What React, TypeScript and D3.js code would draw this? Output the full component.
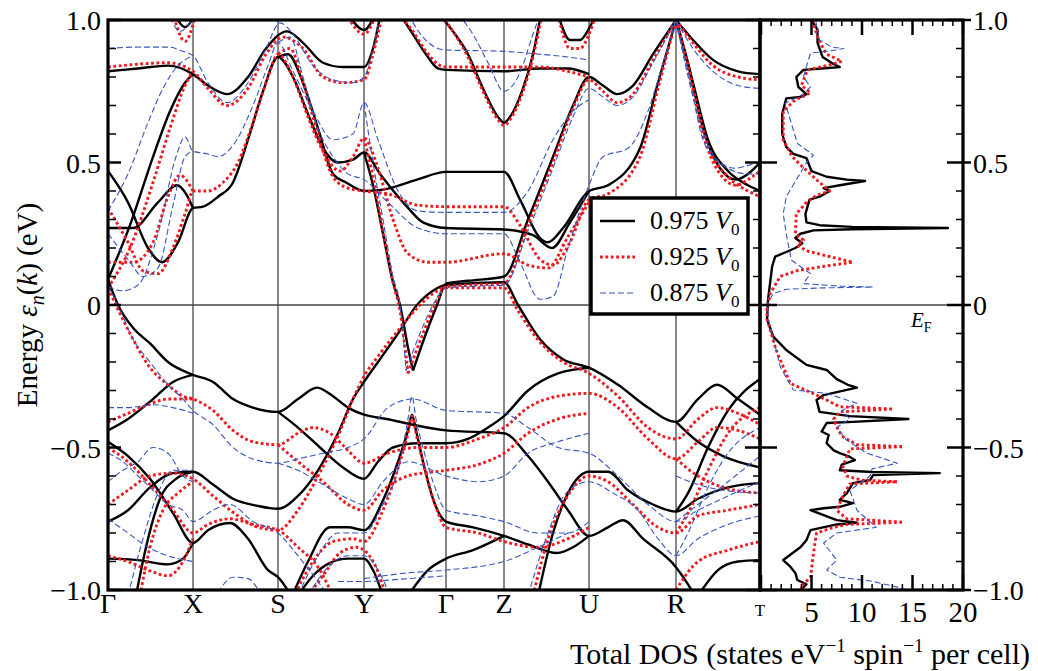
import React from "react";
import * as d3 from "d3";

type P = [number, number];

const kLabels = ["Γ", "X", "S", "Y", "Γ", "Z", "U", "R", "T"];
const kPositions = [0, 85, 170, 256, 338, 396, 481, 568, 652];
const energyTicks = [-1, -0.5, 0, 0.5, 1];
const energyTickLabels = ["−1.0", "−0.5", "0", "0.5", "1.0"];
const dosTicks = [5, 10, 15, 20];
const seriesNames = ["0.975", "0.925", "0.875"];

const bands0975: P[][] = [
  [[0,.82],[30,.83],[60,.84],[85,.81],[100,.77],[119,.74],[140,.80],[158,.90],[179,.96],[195,.92],[215,.85],[235,.835],[256,.835],[265,.90],[273,1.03]],
  [[0,.09],[22,.28],[45,.52],[62,.68],[77,.78],[85,.81]],
  [[0,.47],[20,.36],[40,.20],[54,.15],[70,.22],[85,.34],[95,.345],[110,.38],[125,.43],[140,.58],[155,.75],[170,.87],[185,.80],[200,.67],[215,.55],[230,.50],[245,.51],[256,.535],[272,.46],[299,.345],[315,.29],[338,.27],[396,.265],[425,.245],[444,.20],[462,.29],[481,.40]],
  [[0,.27],[25,.27],[50,.36],[69,.42],[78,.39],[85,.34]],
  [[170,.87],[180,.88],[195,.78],[210,.62],[225,.46],[238,.43],[256,.40],[275,.405],[309,.44],[338,.467],[396,.467],[412,.37],[432,.235],[440,.22],[455,.27],[481,.40],[500,.42],[532,.55],[550,.78],[568,1.0]],
  [[305,-.23],[318,-.10],[329,0],[338,.075],[360,.085],[396,.10],[420,.30],[445,.52],[465,.70],[481,.80],[495,.77],[509,.74],[525,.77],[545,.88],[568,1.0]],
  [[292,1.02],[305,.95],[318,.88],[330,.83],[338,.825],[396,.82],[432,.83],[460,.83],[481,.81]],
  [[336,1.0],[345,.96],[360,.88],[375,.76],[390,.66],[396,.64],[402,.66],[415,.76],[425,.88],[433,1.02]],
  [[256,.535],[265,.42],[275,.25],[285,.08],[292,0],[300,-.15],[305,-.23]],
  [[0,.09],[10,0],[25,-.08],[42,-.135],[60,-.20],[85,-.245],[105,-.27],[125,-.33],[145,-.36],[170,-.375],[190,-.33],[209,-.29],[225,-.32],[240,-.36],[256,-.385],[279,-.40],[305,-.42],[338,-.44],[396,-.45],[420,-.53],[440,-.62],[460,-.72],[481,-.81],[500,-.78],[515,-.755],[535,-.82],[568,-.92],[580,-.98],[590,-1.04]],
  [[0,-.44],[20,-.40],[45,-.33],[65,-.27],[85,-.245]],
  [[0,-.48],[20,-.53],[42,-.61],[65,-.73],[85,-.835],[100,-.79],[122,-.765],[140,-.82],[160,-.93],[170,-.955],[185,-1.03]],
  [[0,-.76],[20,-.72],[42,-.64],[65,-.59],[85,-.585],[105,-.63],[125,-.68],[150,-.705],[170,-.715],[190,-.67],[210,-.58],[230,-.45],[245,-.33],[256,-.27],[270,-.20],[290,-.10],[309,0],[325,.05],[338,.07],[396,.08],[410,0],[432,-.12],[455,-.19],[481,-.22],[510,-.28],[540,-.36],[568,-.41],[590,-.33],[609,-.28],[630,-.33],[652,-.385]],
  [[170,-.375],[190,-.43],[212,-.50],[235,-.57],[256,-.61],[270,-.55],[285,-.50],[310,-.485],[338,-.485],[360,-.47],[380,-.43],[396,-.39],[420,-.30],[450,-.24],[481,-.22]],
  [[568,-.41],[590,-.48],[615,-.53],[652,-.57]],
  [[183,-1.03],[200,-.90],[222,-.78],[240,-.78],[256,-.79],[275,-.685],[290,-.55],[300,-.44],[304,-.385],[308,-.44],[315,-.55],[325,-.68],[338,-.76],[365,-.78],[396,-.81],[420,-.84],[449,-.87],[465,-.85],[481,-.81]],
  [[300,-1.02],[320,-.93],[338,-.89],[365,-.86],[396,-.81]],
  [[0,-.89],[30,-.895],[60,-.91],[75,-.89],[85,-.835]],
  [[28,-1.02],[38,-.85],[52,-.68],[68,-.61],[85,-.585]],
  [[190,-1.02],[205,-.95],[222,-.905],[240,-.89],[256,-.89],[265,-.93],[275,-1.02]],
  [[430,-1.02],[445,-.80],[460,-.66],[481,-.585],[500,-.585],[520,-.65],[545,-.70],[568,-.725],[590,-.68],[620,-.64],[652,-.625]],
  [[568,-.725],[580,-.66],[600,-.50],[620,-.37],[652,-.26]],
  [[590,-1.02],[610,-.93],[630,-.90],[652,-.895]],
  [[568,1.0],[585,.93],[605,.86],[630,.82],[652,.81]],
  [[568,1.0],[580,.85],[595,.62],[612,.48],[628,.44],[640,.46],[652,.50]],
  [[568,1.0],[585,.78],[600,.58],[620,.47],[640,.42],[652,.40]],
  [[68,1.01],[77,.975],[86,1.01]],
  [[242,1.01],[256,.965],[266,1.01]],
  [[450,1.02],[462,.93],[472,.93],[481,.97],[488,1.02]],
];

const bands0925: P[][] = [
  [[0,.835],[30,.845],[60,.85],[85,.82],[100,.76],[119,.70],[140,.76],[158,.88],[175,.94],[195,.90],[215,.80],[235,.78],[256,.79],[265,.88],[275,1.03]],
  [[0,.06],[22,.20],[45,.43],[62,.62],[77,.77],[85,.82]],
  [[0,.34],[20,.22],[35,.12],[50,.11],[65,.20],[78,.33],[85,.40],[100,.40],[115,.43],[130,.50],[145,.64],[160,.80],[170,.88],[185,.80],[200,.66],[215,.54],[232,.47],[245,.52],[256,.585],[270,.48],[285,.30],[300,.18],[320,.15],[338,.15],[396,.18],[420,.14],[440,.13],[460,.24],[481,.36]],
  [[0,.15],[25,.15],[45,.22],[60,.38],[72,.455],[85,.40]],
  [[170,.88],[182,.90],[195,.78],[210,.60],[225,.45],[240,.41],[256,.40],[280,.39],[310,.35],[338,.345],[396,.345],[412,.28],[432,.16],[445,.14],[462,.22],[481,.37],[500,.39],[532,.52],[550,.76],[568,1.0]],
  [[300,-.24],[315,-.10],[327,0],[338,.065],[360,.07],[396,.075],[420,.28],[445,.50],[465,.69],[481,.79],[495,.75],[509,.71],[525,.74],[545,.86],[568,1.0]],
  [[290,1.02],[305,.96],[318,.89],[330,.845],[338,.835],[396,.835],[432,.835],[460,.82],[481,.80]],
  [[337,1.0],[345,.96],[360,.87],[375,.75],[390,.65],[396,.63],[402,.65],[415,.75],[425,.87],[434,1.02]],
  [[256,.585],[265,.45],[275,.26],[285,.08],[292,-.02],[300,-.24]],
  [[0,.06],[8,0],[25,-.12],[42,-.22],[60,-.28],[75,-.32],[85,-.33],[105,-.37],[125,-.44],[145,-.48],[170,-.49],[190,-.45],[205,-.43],[222,-.45],[240,-.51],[256,-.555],[280,-.52],[310,-.50],[338,-.50],[370,-.47],[396,-.43],[420,-.36],[450,-.32],[481,-.31],[510,-.36],[540,-.47],[568,-.54],[590,-.48],[609,-.43],[630,-.44],[652,-.47]],
  [[0,-.41],[20,-.38],[40,-.35],[60,-.33],[85,-.33]],
  [[0,-.50],[20,-.55],[42,-.63],[65,-.72],[85,-.80],[100,-.77],[122,-.75],[145,-.77],[170,-.79],[190,-.85],[210,-.92],[225,-1.02]],
  [[0,-.70],[20,-.65],[42,-.60],[65,-.59],[85,-.61],[105,-.67],[130,-.74],[150,-.78],[170,-.79],[190,-.72],[210,-.60],[230,-.46],[245,-.33],[256,-.25],[270,-.18],[290,-.09],[312,0],[325,.04],[338,.06],[396,.06],[410,-.02],[432,-.13],[455,-.20],[481,-.24],[510,-.32],[540,-.43],[568,-.47],[590,-.40],[609,-.36],[630,-.38],[652,-.42]],
  [[170,-.49],[190,-.55],[215,-.62],[240,-.70],[256,-.72],[275,-.65],[300,-.60],[338,-.58],[370,-.56],[396,-.52],[420,-.45],[450,-.40],[481,-.38]],
  [[185,-1.03],[205,-.90],[225,-.83],[245,-.82],[256,-.83],[275,-.72],[292,-.55],[300,-.45],[304,-.39],[308,-.45],[315,-.55],[327,-.70],[338,-.78],[370,-.80],[396,-.83],[430,-.85],[460,-.82],[481,-.78]],
  [[0,-.88],[20,-.90],[40,-.93],[60,-.95],[75,-.90],[85,-.82]],
  [[32,-1.02],[42,-.85],[55,-.72],[70,-.66],[85,-.62]],
  [[200,-1.02],[215,-.95],[232,-.87],[248,-.85],[256,-.86],[268,-.92],[278,-1.02]],
  [[425,-1.02],[442,-.80],[458,-.68],[481,-.60],[500,-.62],[525,-.70],[550,-.78],[568,-.80],[590,-.74],[620,-.72],[652,-.70]],
  [[568,-.80],[580,-.73],[600,-.58],[620,-.45],[652,-.36]],
  [[568,-.54],[590,-.60],[615,-.64],[652,-.66]],
  [[568,-1.0],[590,-.90],[620,-.86],[652,-.83]],
  [[568,1.0],[585,.92],[605,.84],[630,.80],[652,.79]],
  [[568,1.0],[580,.84],[595,.60],[612,.46],[628,.42],[640,.44],[652,.47]],
  [[568,1.0],[585,.76],[600,.56],[620,.45],[640,.40],[652,.38]],
  [[66,1.01],[77,.925],[87,1.01]],
  [[240,1.01],[256,.95],[267,1.01]],
  [[450,1.02],[462,.90],[472,.90],[481,.95],[488,1.02]],
];

const bands0875: P[][] = [
  [[0,.90],[30,.905],[60,.905],[75,.89],[85,.875],[100,.78],[119,.71],[140,.78],[158,.90],[172,.99],[185,.95],[205,.84],[225,.79],[245,.78],[256,.80],[265,.90],[272,1.03]],
  [[0,.33],[20,.46],[40,.64],[55,.76],[70,.84],[85,.875]],
  [[0,.065],[15,.05],[30,.07],[50,.25],[68,.52],[77,.59],[85,.54],[100,.53],[110,.52],[125,.56],[145,.70],[160,.84],[170,.92],[185,.82],[205,.68],[225,.58],[245,.60],[256,.71],[270,.58],[290,.40],[310,.33],[338,.325],[396,.325],[420,.40],[445,.58],[465,.68],[481,.72]],
  [[0,.25],[20,.16],[35,.10],[50,.13],[65,.35],[77,.52],[85,.54]],
  [[170,.92],[182,.94],[195,.80],[210,.62],[225,.52],[240,.46],[256,.44],[280,.36],[310,.27],[338,.25],[396,.25],[412,.15],[432,.02],[445,.03],[460,.20],[481,.42],[495,.52],[520,.55],[540,.68],[555,.85],[568,1.0]],
  [[298,-.23],[312,-.10],[325,0],[338,.06],[360,.065],[396,.07],[420,.26],[445,.48],[465,.66],[481,.76],[495,.73],[509,.70],[525,.73],[545,.85],[568,1.0]],
  [[300,1.02],[315,.94],[330,.90],[338,.895],[396,.89],[432,.88],[460,.87],[481,.86]],
  [[350,1.02],[365,.95],[380,.85],[396,.75],[410,.80],[425,.95],[432,1.02]],
  [[256,.71],[265,.50],[275,.30],[285,.10],[292,0],[298,-.23]],
  [[0,.065],[10,0],[25,-.12],[42,-.20],[60,-.28],[75,-.33],[85,-.37],[105,-.42],[125,-.50],[145,-.54],[170,-.555],[190,-.54],[215,-.52],[240,-.50],[256,-.47],[280,-.36],[305,-.33],[338,-.37],[396,-.38],[420,-.43],[450,-.50],[481,-.52],[510,-.60],[540,-.70],[568,-.76],[590,-.72],[620,-.67],[652,-.62]],
  [[0,-.36],[20,-.36],[45,-.35],[65,-.36],[85,-.38]],
  [[0,-.52],[15,-.55],[30,-.60],[45,-.65],[60,-.70],[75,-.72],[85,-.76],[105,-.72],[122,-.70],[145,-.76],[170,-.80],[190,-.88],[210,-.97],[220,-1.02]],
  [[0,-.62],[15,-.58],[30,-.55],[45,-.50],[60,-.52],[75,-.60],[85,-.62]],
  [[170,-.555],[190,-.58],[215,-.63],[240,-.68],[256,-.70],[275,-.62],[300,-.55],[338,-.60],[370,-.62],[396,-.60],[420,-.52],[450,-.48],[481,-.45]],
  [[190,-1.02],[210,-.88],[230,-.80],[256,-.80],[275,-.70],[292,-.55],[300,-.40],[304,-.32],[308,-.40],[315,-.50],[327,-.64],[338,-.72],[370,-.74],[396,-.76],[430,-.80],[460,-.80],[481,-.76]],
  [[0,-.75],[20,-.80],[40,-.85],[60,-.88],[85,-.90]],
  [[20,-1.02],[35,-.82],[50,-.66],[65,-.58],[85,-.58]],
  [[200,-1.02],[220,-.92],[240,-.88],[256,-.88],[270,-.93],[282,-1.02]],
  [[110,-1.01],[125,-.955],[140,-.96],[152,-1.01]],
  [[420,-1.02],[440,-.80],[458,-.66],[481,-.62],[505,-.66],[530,-.72],[550,-.82],[568,-.88],[590,-.82],[620,-.77],[652,-.74]],
  [[568,-.88],[580,-.80],[600,-.64],[620,-.52],[652,-.43]],
  [[568,-.60],[590,-.63],[615,-.65],[652,-.66]],
  [[568,-.76],[590,-.70],[620,-.62],[652,-.53]],
  [[568,1.0],[585,.90],[605,.82],[630,.77],[652,.76]],
  [[568,1.0],[580,.82],[595,.58],[612,.50],[628,.48],[640,.49],[652,.50]],
  [[568,1.0],[585,.73],[600,.56],[620,.48],[640,.46],[652,.46]],
  [[62,1.01],[72,.96],[80,.98],[88,1.02]],
  [[256,-.96],[300,-.94],[338,-.93],[396,-.90],[430,-.85],[460,-.80]],
  [[230,-.97],[256,-.97],[300,-.96],[338,-.95]],
];

// [energy, DOS]
const dos0975: P[] = [[1.0,5.0],[0.965,5.6],[0.92,5.6],[0.87,6.1],[0.845,7.2],[0.835,7.8],[0.83,6.0],[0.825,4.2],[0.80,3.5],[0.765,3.7],[0.74,4.5],[0.73,3.9],[0.725,2.5],[0.67,2.1],[0.60,2.1],[0.555,2.5],[0.53,3.2],[0.515,4.5],[0.47,5.0],[0.45,6.5],[0.44,8.5],[0.435,10.3],[0.42,7.8],[0.41,6.2],[0.40,6.8],[0.38,5.8],[0.37,4.8],[0.32,4.4],[0.29,4.5],[0.28,5.8],[0.274,9],[0.27,18.5],[0.266,9],[0.262,5.2],[0.25,3.9],[0.235,3.4],[0.217,4.1],[0.20,3.4],[0.186,2.5],[0.17,1.4],[0.135,1.1],[0.02,0.7],[-0.05,0.6],[-0.11,1.2],[-0.158,2.5],[-0.21,4.5],[-0.228,6.5],[-0.26,7.5],[-0.28,8.6],[-0.29,9.5],[-0.298,8.5],[-0.316,6.2],[-0.333,5.5],[-0.375,5.8],[-0.39,8.8],[-0.40,14.6],[-0.41,9.1],[-0.414,6.5],[-0.444,6.0],[-0.456,6.7],[-0.485,6.5],[-0.51,7.2],[-0.52,7.8],[-0.533,8.8],[-0.544,9.3],[-0.56,8.0],[-0.58,7.8],[-0.586,11],[-0.59,17.7],[-0.597,11.1],[-0.614,10.8],[-0.625,9.1],[-0.66,8.5],[-0.684,7.8],[-0.695,9.1],[-0.708,7.8],[-0.713,6.2],[-0.72,4.9],[-0.755,7.5],[-0.764,9.5],[-0.77,7.5],[-0.79,4.9],[-0.825,4.5],[-0.85,3.9],[-0.895,2.2],[-0.918,2.9],[-0.94,3.4],[-0.965,3.6],[-0.98,4.5],[-1.0,3.9]];
const dos0925: P[] = [[1.0,5.1],[0.93,5.7],[0.88,6.5],[0.855,8.0],[0.84,6.5],[0.825,4.6],[0.77,4.0],[0.745,4.9],[0.735,4.4],[0.72,3.4],[0.68,2.2],[0.58,2.2],[0.52,3.1],[0.485,4.1],[0.43,5.8],[0.40,6.8],[0.385,5.5],[0.36,4.5],[0.32,3.5],[0.25,3.4],[0.228,4.2],[0.21,3.6],[0.19,4.5],[0.175,6.2],[0.15,9.1],[0.135,6.1],[0.12,3.5],[0.10,1.9],[0.04,0.9],[-0.01,0.6],[-0.05,0.6],[-0.158,1.5],[-0.217,2.2],[-0.275,2.9],[-0.316,5.5],[-0.357,7.8],[-0.365,13.1],[-0.375,7.8],[-0.40,7.2],[-0.427,7.5],[-0.46,8.0],[-0.49,9.5],[-0.497,14.1],[-0.505,8.8],[-0.567,8.1],[-0.60,8.5],[-0.615,10],[-0.62,13.5],[-0.628,8.8],[-0.67,8.1],[-0.72,7.5],[-0.75,8.5],[-0.762,14.1],[-0.77,8.5],[-0.78,7.2],[-0.80,5.5],[-0.87,5.2],[-0.955,4.9],[-0.99,3.9],[-1.0,4.2]];
const dos0875: P[] = [[1.0,5.4],[0.93,5.8],[0.905,7.0],[0.90,8.2],[0.89,6.5],[0.884,4.9],[0.80,4.2],[0.765,4.9],[0.74,4.2],[0.708,2.4],[0.65,2.9],[0.567,3.6],[0.526,5.2],[0.50,4.5],[0.463,3.9],[0.38,2.5],[0.32,2.2],[0.25,2.5],[0.158,3.0],[0.11,4.9],[0.075,4.2],[0.066,8],[0.063,11.1],[0.06,6],[0.055,2.5],[0.04,1.2],[0.0,0.6],[-0.06,0.8],[-0.158,1.5],[-0.217,1.9],[-0.298,3.2],[-0.31,6.5],[-0.345,9.5],[-0.37,8.0],[-0.40,8.8],[-0.43,7.5],[-0.475,8.5],[-0.52,10.5],[-0.555,13.5],[-0.575,11],[-0.60,10.8],[-0.65,8.8],[-0.72,9.5],[-0.78,11.4],[-0.80,7.5],[-0.835,6.2],[-0.895,7.5],[-0.93,6.5],[-0.955,7.8],[-0.97,11.1],[-0.99,13.5],[-1.0,14.5]];

const styles = [
  { stroke: "#000000", width: 2.4, dash: undefined as string | undefined },
  { stroke: "#f0191e", width: 2.9, dash: "2.8,2.6" },
  { stroke: "#3657c0", width: 1.1, dash: "6,3" },
];

const FONT = "'Liberation Serif', 'Times New Roman', serif";

export default function App() {
  const W = 1038, H = 671;
  const L = 108, R = 760, T = 20, B = 590, DR = 963;
  const x = d3.scaleLinear().domain([0, 652]).range([L, R]);
  const y = d3.scaleLinear().domain([-1, 1]).range([B, T]);
  const xd = d3.scaleLinear().domain([0, 20]).range([R + 1, DR]);
  const bandLine = d3.line<P>().x(d => x(d[0])).y(d => y(d[1])).curve(d3.curveMonotoneX);
  const dosLine = d3.line<P>().x(d => xd(d[1])).y(d => y(d[0]));
  const allBands = [bands0975, bands0925, bands0875];
  const allDos = [dos0975, dos0925, dos0875];
  const minorE = d3.range(-10, 11).map(i => i / 10);
  const isMajor = (e: number) => Math.abs(e * 2 - Math.round(e * 2)) < 1e-6;
  const dosMinor = d3.range(0, 21);

  return (
    <svg width={W} height={H} style={{ position: "absolute", left: 0, top: 0, background: "#fff" }} fontFamily={FONT}>
      <defs>
        <clipPath id="bandClip"><rect x={L} y={T} width={R - L} height={B - T} /></clipPath>
        <clipPath id="dosClip"><rect x={R} y={T} width={DR - R} height={B - T} /></clipPath>
      </defs>
      {kPositions.slice(1, -1).map((k, i) => (
        <line key={"v" + i} x1={x(k)} x2={x(k)} y1={T} y2={B} stroke="#111" strokeWidth={1} />
      ))}
      <line x1={L} x2={DR} y1={y(0)} y2={y(0)} stroke="#444" strokeWidth={1.6} />
      <g clipPath="url(#bandClip)">
        {allBands.map((bands, s) => (
          <g key={"s" + s}>
            {bands.map((b, i) => (
              <path key={i} d={bandLine(b) || ""} fill="none" stroke={styles[s].stroke} strokeWidth={styles[s].width} strokeDasharray={styles[s].dash} />
            ))}
          </g>
        ))}
      </g>
      <g clipPath="url(#dosClip)">
        {allDos.map((d, s) => (
          <path key={"d" + s} d={dosLine(d) || ""} fill="none" stroke={styles[s].stroke} strokeWidth={styles[s].width} strokeDasharray={styles[s].dash} strokeLinejoin="round" />
        ))}
      </g>
      {minorE.map((e, i) => {
        const m = isMajor(e);
        const yy = y(e);
        return (
          <g key={"t" + i} stroke="#000">
            <line x1={L} x2={L + (m ? 13 : 8)} y1={yy} y2={yy} strokeWidth={m ? 2.5 : 1.5} />
            <line x1={R - (m ? 15 : 7)} x2={R + (m ? 17 : 0)} y1={yy} y2={yy} strokeWidth={m ? 2.5 : 1.5} />
            <line x1={DR - (m ? 16 : 7)} x2={DR + (m ? 8 : 0)} y1={yy} y2={yy} strokeWidth={m ? 2.5 : 1.5} />
          </g>
        );
      })}
      {dosMinor.map((d, i) => {
        const m = d % 5 === 0;
        const xx = xd(d);
        return (
          <g key={"dt" + i} stroke="#000" strokeWidth={m ? 2.5 : 1.5}>
            <line x1={xx} x2={xx} y1={T} y2={T + (m ? 15 : 6)} />
            <line x1={xx} x2={xx} y1={B} y2={B - (m ? 15 : 6)} />
          </g>
        );
      })}
      <rect x={L} y={T} width={R - L} height={B - T} fill="none" stroke="#000" strokeWidth={3.2} />
      <rect x={R} y={T} width={DR - R} height={B - T} fill="none" stroke="#000" strokeWidth={3.2} />
      {energyTicks.map((e, i) => (
        <text key={"yl" + i} x={101} y={y(e) + 10} textAnchor="end" fontSize={28}>{energyTickLabels[i]}</text>
      ))}
      {energyTicks.map((e, i) => (
        <text key={"yr" + i} x={973} y={y(e) + 10} textAnchor="start" fontSize={28}>{energyTickLabels[i]}</text>
      ))}
      {kLabels.map((lab, i) => (
        <text key={"k" + i} x={x(kPositions[i])} y={i === kLabels.length - 1 ? 616 : 613} textAnchor="middle" fontSize={i === kLabels.length - 1 ? 17 : 28}>{lab}</text>
      ))}
      {dosTicks.map((d, i) => (
        <text key={"dx" + i} x={xd(d)} y={622} textAnchor="middle" fontSize={29}>{d}</text>
      ))}
      <text transform={`translate(37,${y(0)}) rotate(-90)`} textAnchor="middle" fontSize={29}>
        Energy <tspan fontStyle="italic">ε</tspan><tspan fontStyle="italic" fontSize={20} dy={7}>n</tspan><tspan dy={-7}>(</tspan><tspan fontStyle="italic">k</tspan>) (eV)
      </text>
      <text x={1030} y={664} textAnchor="end" fontSize={30}>
        Total DOS (states eV<tspan fontSize={19} dy={-12}>−1</tspan><tspan dy={12}> spin</tspan><tspan fontSize={19} dy={-12}>−1</tspan><tspan dy={12}> per cell)</tspan>
      </text>
      <text x={911} y={327} fontSize={21}>
        <tspan fontStyle="italic">E</tspan><tspan fontSize={14} dy={5}>F</tspan>
      </text>
      <rect x={591} y={198} width={157} height={116} fill="#fff" stroke="#000" strokeWidth={3.5} />
      {seriesNames.map((nm, i) => {
        const ly = 221 + i * 36;
        return (
          <g key={"lg" + i}>
            <line x1={600} x2={635} y1={ly} y2={ly} stroke={styles[i].stroke} strokeWidth={styles[i].width} strokeDasharray={styles[i].dash} />
            <text x={650} y={ly + 8} fontSize={26}>
              {nm} <tspan fontStyle="italic">V</tspan><tspan fontSize={17} dy={6}>0</tspan>
            </text>
          </g>
        );
      })}
    </svg>
  );
}
